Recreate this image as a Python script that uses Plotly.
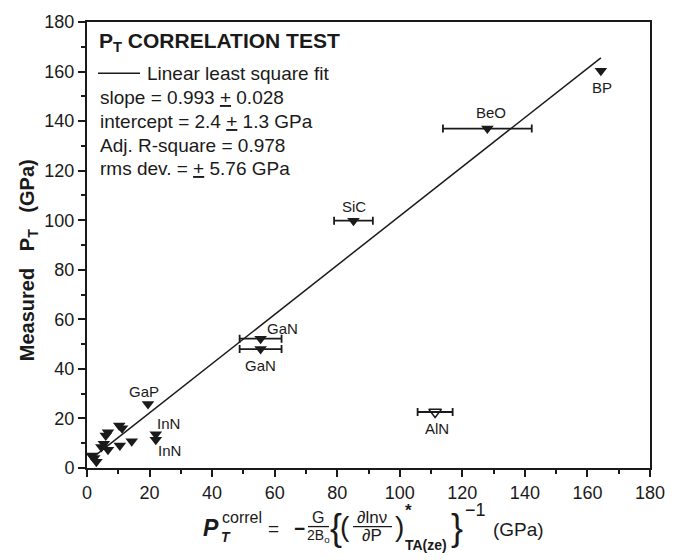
import plotly.graph_objects as go

# ---------------- data ----------------
# compounds with horizontal error bars (filled markers)
err_names = ["GaN", "GaN", "SiC", "BeO"]
err_x = [55.5, 55.5, 85.2, 128.0]
err_y = [52.2, 48.0, 99.8, 137.0]
err_dx = [6.7, 6.7, 6.2, 14.2]

# labelled compounds without error bars (filled markers)
lab_names = ["BP", "GaP", "InN", "InN"]
lab_x = [164.3, 19.5, 22.0, 22.0]
lab_y = [160.3, 25.8, 13.6, 11.4]

# unlabelled low-pressure cluster (filled markers)
clu_x = [10.3, 11.2, 6.7, 6.0, 5.4, 4.6, 6.7, 10.5, 14.3, 1.5, 2.3, 3.0]
clu_y = [17.2, 16.0, 14.4, 13.1, 9.8, 8.5, 7.4, 9.1, 10.8, 5.0, 4.0, 2.5]

# open symbol (outlier)
aln_name = ["AlN"]
aln_x = [111.3]
aln_y = [22.6]
aln_dx = [5.6]

# linear least-square fit
fit_slope = 0.993
fit_intercept = 2.4
fit_x = [1.5, 164.3]
fit_y = [fit_slope * v + fit_intercept for v in fit_x]

x_ticks = [0, 20, 40, 60, 80, 100, 120, 140, 160, 180]
y_ticks = [0, 20, 40, 60, 80, 100, 120, 140, 160, 180]

# ---------------- style ----------------
INK = "#1a1a1a"
FONT = "Liberation Sans, Arial, Helvetica, sans-serif"
W, H = 687, 560
L, R, T, B = 87, 650, 15, 468    # plot-area box in page pixels


def px(x):
    return (x - L) / (R - L)


def py(y):
    return (B - y) / (B - T)


fig = go.Figure()

fig.add_trace(go.Scatter(
    x=fit_x, y=fit_y, mode="lines",
    line=dict(color=INK, width=1.5), hoverinfo="skip", showlegend=False))

mk = dict(symbol="triangle-down", size=11, color=INK, line=dict(width=0))

fig.add_trace(go.Scatter(x=clu_x, y=clu_y, mode="markers", marker=mk, showlegend=False))
fig.add_trace(go.Scatter(x=lab_x, y=lab_y, mode="markers", marker=mk,
                         text=lab_names, showlegend=False))
fig.add_trace(go.Scatter(
    x=err_x, y=err_y, mode="markers", marker=mk, text=err_names,
    error_x=dict(type="data", array=err_dx, visible=True, color=INK,
                 thickness=1.8, width=4),
    showlegend=False))
fig.add_trace(go.Scatter(
    x=aln_x, y=aln_y, mode="markers", text=aln_name,
    marker=dict(symbol="triangle-down-open", size=11, color=INK,
                line=dict(width=1.4, color=INK)),
    error_x=dict(type="data", array=aln_dx, visible=True, color=INK,
                 thickness=1.8, width=4),
    showlegend=False))

ann = []

# point labels (data coordinates)
point_labels = [
    ("BeO", 129.2, 143.5), ("BP", 164.8, 153.5), ("SiC", 85.4, 105.5),
    ("GaN", 62.5, 56.3), ("GaN", 55.5, 41.5), ("AlN", 111.8, 15.8),
    ("GaP", 18.2, 30.8), ("InN", 26.2, 17.8), ("InN", 26.4, 7.0),
]
for t, x, y in point_labels:
    ann.append(dict(x=x, y=y, xref="x", yref="y", text=t, showarrow=False,
                    font=dict(family=FONT, size=15, color=INK),
                    xanchor="center", yanchor="middle"))

# in-plot legend block
ann.append(dict(x=px(97), y=py(35), xref="paper", yref="paper",
                text="<b>P<sub>T</sub> CORRELATION TEST</b>", showarrow=False,
                font=dict(family=FONT, size=21, color=INK),
                xanchor="left", yanchor="middle"))
legend_lines = [
    (145, 67, "Linear least square fit"),
    (98, 92, "slope = 0.993 <u>+</u> 0.028"),
    (98, 116, "intercept = 2.4 <u>+</u> 1.3 GPa"),
    (98, 140, "Adj. R-square = 0.978"),
    (98, 164, "rms dev. = <u>+</u> 5.76 GPa"),
]
for x0, y0, t in legend_lines:
    ann.append(dict(x=px(x0), y=py(y0), xref="paper", yref="paper", text=t,
                    showarrow=False, font=dict(family=FONT, size=19, color=INK),
                    xanchor="left", yanchor="middle"))

shapes = [dict(type="line", xref="paper", yref="paper",
               x0=px(98), x1=px(140), y0=py(67), y1=py(67),
               line=dict(color=INK, width=1.5))]

# y-axis title
NB = "\u00a0" * 3
ann.append(dict(x=px(28), y=py(257), xref="paper", yref="paper",
                text="<b>Measured" + NB + "P<sub>T</sub>" + NB + "(GPa)</b>",
                textangle=-90, showarrow=False,
                font=dict(family=FONT, size=20, color=INK),
                xanchor="center", yanchor="middle"))

# x-axis title (built as a small formula)


def piece(text, x, y, size, anchor="center", bold=False, italic=False):
    if italic:
        text = "<i>" + text + "</i>"
    if bold:
        text = "<b>" + text + "</b>"
    ann.append(dict(x=px(x), y=py(y), xref="paper", yref="paper", text=text,
                    showarrow=False, font=dict(family=FONT, size=size, color=INK),
                    xanchor=anchor, yanchor="middle"))


piece("P", 211, 529, 23, bold=True, italic=True)
piece("correl", 220, 518, 16, anchor="left")
piece("T", 219, 538, 14, anchor="left", bold=True, italic=True)
piece("=", 273, 529, 19)
piece("\u2212", 299, 529, 19, bold=True)
piece("G", 318, 518, 16)
piece("2B<sub>o</sub>", 318, 537, 14)
piece("{", 336, 528, 36)
piece("(", 345, 527, 28)
piece("\u2202ln\u03bd", 372, 518, 17)
piece("\u2202P", 372, 537, 17)
piece(")", 399, 527, 28)
piece("*", 408, 511, 17, bold=True)
piece("TA(ze)", 403, 546, 14, anchor="left", bold=True)
piece("}", 457, 528, 36)
piece("\u22121", 463, 511, 18, anchor="left")
piece("(GPa)", 518, 530, 19)

shapes.append(dict(type="line", xref="paper", yref="paper",
                   x0=px(308), x1=px(329), y0=py(527.5), y1=py(527.5),
                   line=dict(color=INK, width=1.3)))
shapes.append(dict(type="line", xref="paper", yref="paper",
                   x0=px(353), x1=px(392), y0=py(527.5), y1=py(527.5),
                   line=dict(color=INK, width=1.3)))

axis_common = dict(
    range=[0, 180], showgrid=False, zeroline=False,
    showline=True, linecolor=INK, linewidth=2, mirror=True,
    ticks="outside", ticklen=7, tickwidth=1.5, tickcolor=INK,
    tickfont=dict(family=FONT, size=18, color=INK),
    ticklabeloverflow="allow",
    minor=dict(dtick=10, ticks="outside", ticklen=4, tickwidth=1.5, tickcolor=INK),
)

fig.update_layout(
    width=W, height=H,
    margin=dict(l=L, r=W - R, t=T, b=H - B),
    paper_bgcolor="white", plot_bgcolor="white",
    xaxis=dict(tickvals=x_ticks, ticktext=[str(v) for v in x_ticks], **axis_common),
    yaxis=dict(tickvals=y_ticks, ticktext=[str(v) for v in y_ticks], **axis_common),
    annotations=ann, shapes=shapes, showlegend=False,
)

# place the figure flush with the page corner (no default body margin)
fig.write_html("out.html",
               config={"displayModeBar": False},
               post_script="document.body.style.margin='0';document.body.style.overflow='hidden';")
